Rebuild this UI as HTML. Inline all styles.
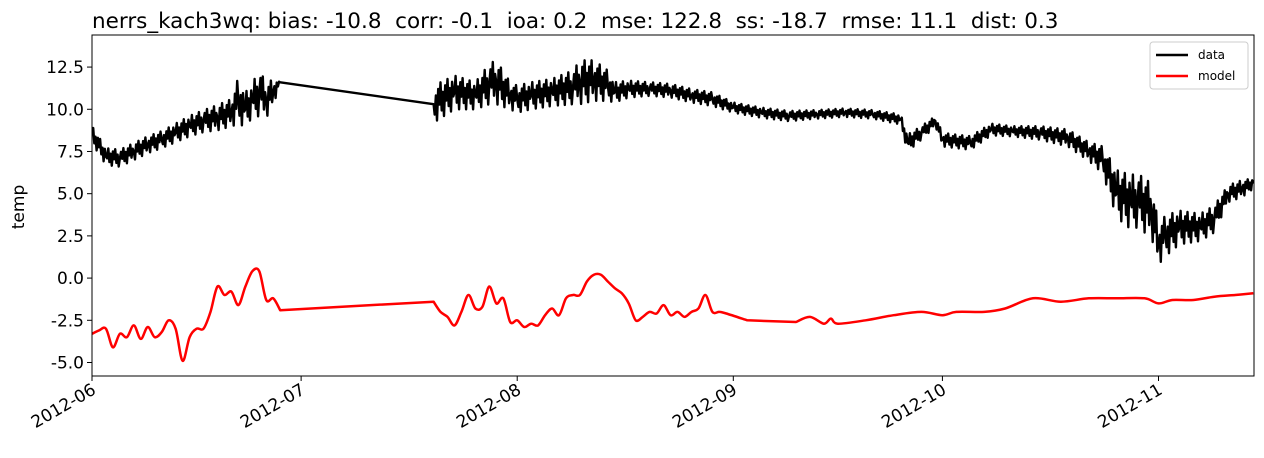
<!DOCTYPE html>
<html><head><meta charset="utf-8"><style>
body{margin:0;background:#fff;font-family:"Liberation Sans","DejaVu Sans",sans-serif;}
svg text{font-family:"DejaVu Sans","Liberation Sans",sans-serif;white-space:pre;}
</style></head><body>
<svg id="chart" width="1264" height="453" xmlns="http://www.w3.org/2000/svg">
<text x="92" y="28" font-size="21.5" xml:space="preserve">nerrs_kach3wq: bias: -10.8  corr: -0.1  ioa: 0.2  mse: 122.8  ss: -18.7  rmse: 11.1  dist: 0.3</text>
<text transform="translate(24,207) rotate(-90)" text-anchor="middle" font-size="17">temp</text>
<g id="plot"></g>
<rect x="92" y="35" width="1162" height="341" fill="none" stroke="#000" stroke-width="1"/>
<g>
<rect x="1150" y="42" width="98" height="47" fill="#fff" stroke="#ccc" rx="3"/>
<line x1="1156" y1="55" x2="1188" y2="55" stroke="#000" stroke-width="2.5"/>
<text x="1198" y="59" font-size="12">data</text>
<line x1="1156" y1="76" x2="1188" y2="76" stroke="red" stroke-width="2.5"/>
<text x="1198" y="80" font-size="12">model</text>
</g>
</svg>
<script>
const yTicks=[-5,-2.5,0,2.5,5,7.5,10,12.5];
const xTickDays=[0,30,61,92,122,153];
const xTickLabels=["2012-06","2012-07","2012-08","2012-09","2012-10","2012-11"];
const dataDays=[0,2,4,6,8,10,12,14,16,18,20,21,22,23,24,25,26,27,49,52,55,57,58,60,61,63,66,69,70,72,74,75,77,80,83,86,89,92,96,100,104,108,112,116,117,119,121,122,126,129,132,136,140,143,145,147,149,150,152,153,154,156,159,161,163,165,166.6];
const dataMean=[8.5,7.2,7.1,7.5,7.9,8.2,8.6,9.0,9.3,9.5,9.8,10.5,10.0,10.5,11.0,10.5,11.0,11.6,10.3,11.0,10.8,11.5,11.6,10.8,10.6,10.8,11.0,11.3,11.6,11.7,11.4,11.0,11.2,11.2,11.1,10.8,10.6,10.1,9.8,9.6,9.7,9.8,9.7,9.4,8.0,8.6,9.3,8.2,8.0,8.8,8.7,8.6,8.3,7.5,7.0,5.0,4.5,4.6,4.0,2.0,2.5,3.0,3.0,3.5,5.0,5.3,5.6];
const dataRange=[1.0,1.0,1.0,1.0,1.0,1.0,1.1,1.2,1.3,1.5,1.6,2.8,2.0,2.0,2.8,2.0,1.6,0,2.2,2.0,1.6,2.4,2.6,1.6,1.6,1.6,1.6,2.0,2.6,2.4,1.8,1.2,1.0,0.8,0.8,0.8,0.8,0.6,0.6,0.6,0.5,0.5,0.5,0.6,1.0,0.8,0.6,0.8,0.8,0.7,0.6,0.8,1.0,1.1,1.6,2.8,3.2,3.2,3.2,2.4,2.4,2.0,1.6,1.6,1.0,1.0,0.6];
const modelDays=[0,1,2,3,4,5,6,7,8,9,10,11,12,13,14,15,16,17,18,19,20,21,22,23,24,25,26,27,49,50,51,52,53,54,55,56,57,58,59,60,61,62,63,64,65,66,67,68,69,70,71,72,73,74,75,76,77,78,79,80,81,82,83,84,85,86,87,88,89,90,91,94,101,103,105,106,107,111,115,119,122,124,128,131,135,139,143,147,151,153,155,158,161,164,166.6];
const modelVals=[-3.3,-3.1,-3.0,-4.1,-3.3,-3.5,-2.8,-3.6,-2.9,-3.5,-3.2,-2.5,-3.0,-4.9,-3.5,-3.0,-3.0,-2.0,-0.5,-1.0,-0.8,-1.6,-0.5,0.4,0.4,-1.3,-1.2,-1.9,-1.4,-2.0,-2.3,-2.8,-2.0,-1.0,-1.8,-1.7,-0.5,-1.5,-1.2,-2.6,-2.5,-2.9,-2.7,-2.8,-2.2,-1.8,-2.2,-1.2,-1.0,-1.0,-0.2,0.2,0.2,-0.2,-0.6,-0.9,-1.5,-2.5,-2.3,-2.0,-2.1,-1.6,-2.2,-2.0,-2.3,-2.0,-1.8,-1.0,-2.0,-2.0,-2.1,-2.5,-2.6,-2.3,-2.7,-2.4,-2.7,-2.5,-2.2,-2.0,-2.2,-2.0,-2.0,-1.8,-1.2,-1.4,-1.2,-1.2,-1.2,-1.5,-1.3,-1.3,-1.1,-1.0,-0.9];

const X0=92,X1=1254,Y0=35,Y1=376,DMAX=166.7,VMIN=-5.8,VMAX=14.4;
const xs=d=>X0+(d/DMAX)*(X1-X0);
const ys=v=>Y1-(v-VMIN)/(VMAX-VMIN)*(Y1-Y0);
const NS="http://www.w3.org/2000/svg";
const plot=document.getElementById('plot');
function mk(t,a){const e=document.createElementNS(NS,t);for(const k in a)e.setAttribute(k,a[k]);return e;}
yTicks.forEach(v=>{
  const g=mk('g',{});
  
  
  g.appendChild(mk('line',{x1:X0-5,x2:X0,y1:ys(v),y2:ys(v),stroke:'#000'}));
  const t=mk('text',{x:X0-8,y:ys(v)+6,'text-anchor':'end','font-size':17});
  t.textContent=v.toFixed(1);g.appendChild(t);plot.appendChild(g);
});
xTickDays.forEach((d,i)=>{
  const g=mk('g',{});
  
  
  g.appendChild(mk('line',{x1:xs(d),x2:xs(d),y1:Y1,y2:Y1+5,stroke:'#000'}));
  const t=mk('text',{x:0,y:0,'text-anchor':'end','font-size':17,transform:`translate(${xs(d)+5},${Y1+17}) rotate(-30)`});
  t.textContent=xTickLabels[i];g.appendChild(t);plot.appendChild(g);
});
const clip=mk('clipPath',{id:'cp'});clip.appendChild(mk('rect',{x:X0,y:Y0,width:X1-X0,height:Y1-Y0}));plot.appendChild(clip);
let pts=[];
const pat=[0.5,-0.3,0.2,-0.5,0.35,-0.1];
let c=0;
for(let i=0;i<dataDays.length;i++){
  const d0=dataDays[i],v0=dataMean[i],r0=dataRange[i];
  pts.push([d0,v0]);
  if(i<dataDays.length-1&&r0>0){
    const d1=dataDays[i+1],v1=dataMean[i+1],r1=dataRange[i+1];
    const n=Math.round((d1-d0)*6);
    for(let k=1;k<n;k++){const f=k/n;const m=v0+(v1-v0)*f,r=r0+(r1-r0)*f;pts.push([d0+(d1-d0)*f,m+pat[c++%pat.length]*r]);}
  }
}
const dl=mk('polyline',{points:pts.map(p=>xs(p[0]).toFixed(1)+','+ys(p[1]).toFixed(1)).join(' '),fill:'none',stroke:'#000','stroke-width':2.4,'stroke-linejoin':'round','clip-path':'url(#cp)'});


plot.appendChild(dl);
const mp=modelDays.map((d,i)=>[xs(d),ys(modelVals[i])]);
const isGap=i=>i>=0&&i<modelDays.length-1&&modelDays[i+1]-modelDays[i]>5;
let path='M'+mp[0][0].toFixed(1)+','+mp[0][1].toFixed(1);
for(let i=0;i<mp.length-1;i++){
  const p1=mp[i],p2=mp[i+1];
  if(isGap(i)){path+=`L${p2[0].toFixed(1)},${p2[1].toFixed(1)}`;continue;}
  const p0=(i>0&&!isGap(i-1))?mp[i-1]:p1;
  const p3=(i+2<mp.length&&!isGap(i+1))?mp[i+2]:p2;
  const c1=[p1[0]+(p2[0]-p0[0])/6,p1[1]+(p2[1]-p0[1])/6],c2=[p2[0]-(p3[0]-p1[0])/6,p2[1]-(p3[1]-p1[1])/6];
  path+=`C${c1[0].toFixed(1)},${c1[1].toFixed(1)} ${c2[0].toFixed(1)},${c2[1].toFixed(1)} ${p2[0].toFixed(1)},${p2[1].toFixed(1)}`;
}
const ml=mk('path',{d:path,fill:'none',stroke:'red','stroke-width':2.5,'stroke-linejoin':'round','clip-path':'url(#cp)'});


plot.appendChild(ml);
</script>
</body></html>
